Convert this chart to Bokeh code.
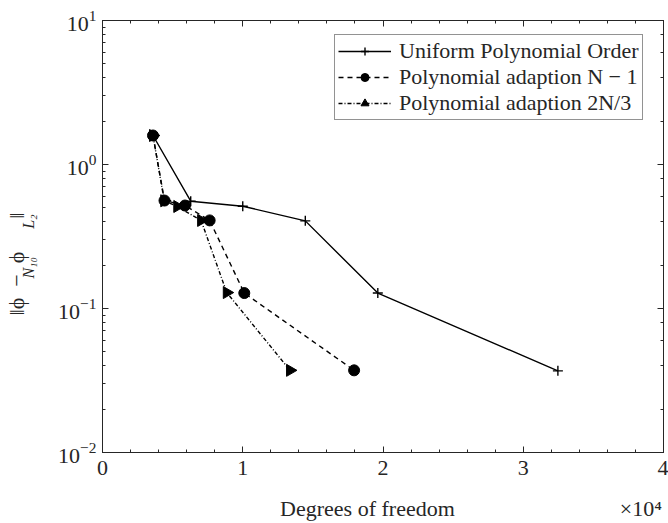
import numpy as np
from bokeh.plotting import figure
from bokeh.models import (Range1d, LogAxis, LinearAxis, SingleIntervalTicker, LogTicker, FixedTicker,
                          CustomJSTickFormatter, Legend, LegendItem, ColumnDataSource)
from bokeh.embed import file_html
from bokeh.resources import INLINE

# ---- data ----
dof_uniform = [3600, 6290, 10000, 14460, 19630, 32470]
err_uniform = [1.59, 0.556, 0.513, 0.406, 0.128, 0.0369]

dof_nm1 = [3600, 4420, 5880, 7640, 10110, 17940]
err_nm1 = [1.59, 0.562, 0.519, 0.409, 0.128, 0.0372]

dof_2n3 = [3600, 4400, 5330, 7030, 8860, 13370]
err_2n3 = [1.59, 0.56, 0.511, 0.409, 0.129, 0.0372]

labels = ["Uniform Polynomial Order", "Polynomial adaption N \u2212 1", "Polynomial adaption 2N/3"]

NB = "\u00a0"
x_label = NB * 32 + "Degrees of freedom" + NB * 30 + "\u00d710\u2074"
y_label_main = "\u2016\u03d5" + NB * 2 + "\u2212" + NB * 2 + "\u03d5" + NB * 6 + "\u2016" + NB * 10
y_label_sub = NB * 1 + "N\u2081\u2080" + NB * 7 + "L\u2082" + NB * 6

# ---- layout geometry ----
W, H = 668, 523
FL, FR, FT, FB = 102, 663, 20, 452
XMIN, XMAX = 0, 40000
YMIN, YMAX = 1e-2, 1e1

FONT = "Liberation Serif"
INK = "#262626"

p = figure(width=W, height=H, x_range=Range1d(XMIN, XMAX), y_range=Range1d(YMIN, YMAX),
           y_axis_type="log", output_backend="svg", toolbar_location=None,
           min_border_left=FL, min_border_right=W - FR, min_border_top=FT, min_border_bottom=H - FB,
           background_fill_color="white", border_fill_color="white")
p.xgrid.visible = False
p.ygrid.visible = False
p.outline_line_color = INK
p.outline_line_width = 1

xticker = SingleIntervalTicker(interval=10000, num_minor_ticks=5)
p.xaxis.ticker = xticker
p.xaxis.formatter = CustomJSTickFormatter(code="return (tick/10000).toFixed(0)")

def style_axis(ax, show_labels=True):
    ax.axis_line_color = INK
    ax.major_tick_line_color = INK
    ax.minor_tick_line_color = INK
    ax.major_tick_in = 6
    ax.major_tick_out = 0
    ax.minor_tick_in = 3
    ax.minor_tick_out = 0
    if show_labels:
        ax.major_label_text_font = FONT
        ax.major_label_text_font_size = "22px"
        ax.major_label_text_color = INK
        ax.major_label_standoff = 8
    else:
        ax.major_label_text_font_size = "0px"
        ax.major_label_standoff = 0

xa = p.xaxis[0]
ya = p.yaxis[0]
style_axis(xa)
style_axis(ya)
ya.major_label_standoff = 6

xa.axis_label = x_label
xa.axis_label_text_font = FONT
xa.axis_label_text_font_size = "22px"
xa.axis_label_text_font_style = "normal"
xa.axis_label_text_color = INK
xa.axis_label_standoff = 18

ya.axis_label = y_label_sub
ya.axis_label_text_font = FONT
ya.axis_label_text_font_size = "16px"
ya.axis_label_text_font_style = "italic"
ya.axis_label_text_color = INK
ya.axis_label_standoff = 18

outer = LinearAxis(ticker=FixedTicker(ticks=[]), axis_label=y_label_main)
outer.axis_line_color = None
outer.major_tick_line_color = None
outer.minor_tick_line_color = None
outer.major_label_text_font_size = "0px"
outer.major_label_standoff = 0
outer.axis_label_text_font = FONT
outer.axis_label_text_font_size = "22px"
outer.axis_label_text_font_style = "normal"
outer.axis_label_text_color = INK
outer.axis_label_standoff = -11
p.add_layout(outer, "left")

top_ax = LinearAxis(ticker=xticker, formatter=CustomJSTickFormatter(code="return ''"))
style_axis(top_ax, False)
p.add_layout(top_ax, "above")
right_ax = LogAxis(ticker=LogTicker(), formatter=CustomJSTickFormatter(code="return ''"))
style_axis(right_ax, False)
p.add_layout(right_ax, "right")

# ---- series ----
LW = 1.4
r1l = p.line(dof_uniform, err_uniform, line_color="black", line_width=LW)
r1m = p.scatter(dof_uniform, err_uniform, marker="cross", size=10, line_color="black", line_width=LW)

r2l = p.line(dof_nm1, err_nm1, line_color="black", line_width=LW, line_dash="5 4")
r2m = p.scatter(dof_nm1, err_nm1, marker="circle", size=11, fill_color="black", line_color="black")

src3 = ColumnDataSource(dict(x=dof_2n3, y=err_2n3, ang=[-np.pi / 2] * len(dof_2n3)))
r3l = p.line(dof_2n3, err_2n3, line_color="black", line_width=LW, line_dash="4 2 1 2")
r3m = p.scatter("x", "y", source=src3, marker="triangle", size=12, angle="ang",
                fill_color="black", line_color="black")

legend = Legend(items=[LegendItem(label=labels[0], renderers=[r1l, r1m]),
                       LegendItem(label=labels[1], renderers=[r2l, r2m]),
                       LegendItem(label=labels[2], renderers=[r3l, r3m], index=0)],
                location=(334 - FL, FB - 120))
legend.label_text_font = FONT
legend.label_text_font_size = "22px"
legend.label_text_color = INK
legend.glyph_width = 53
legend.glyph_height = 20
legend.label_height = 20
legend.label_standoff = 8
legend.spacing = 0
legend.padding = 3
legend.margin = 0
legend.border_line_color = INK
legend.border_line_width = 1
legend.background_fill_color = "white"
legend.background_fill_alpha = 1
p.add_layout(legend, "center")

open("out.html", "w").write(file_html(p, INLINE))
